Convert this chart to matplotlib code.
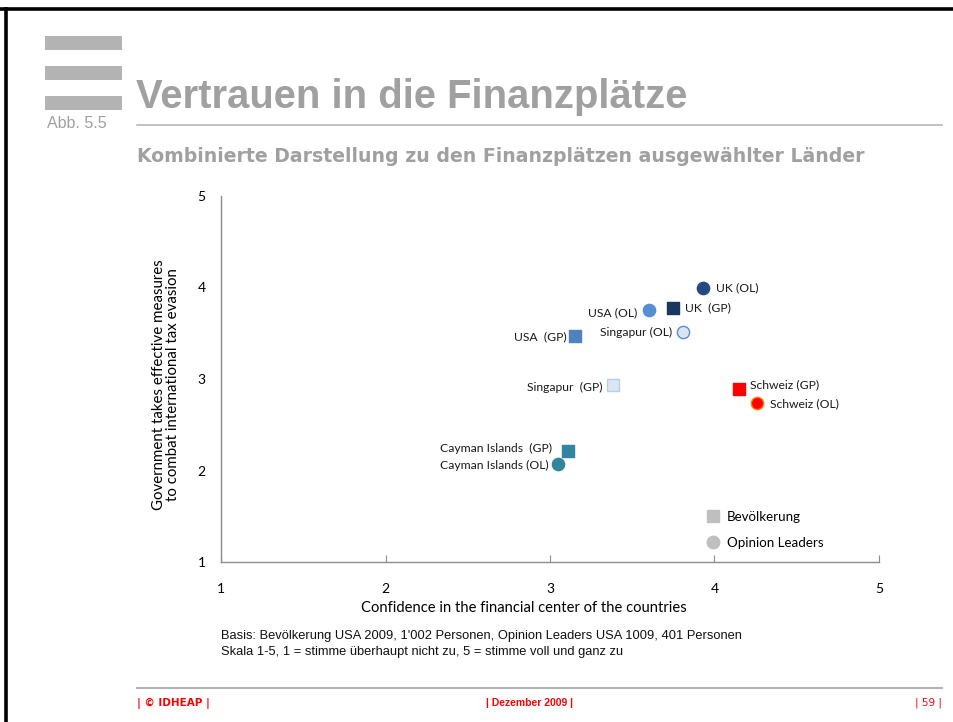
import matplotlib
matplotlib.use("Agg")
import matplotlib.pyplot as plt
from matplotlib.lines import Line2D
from matplotlib.patches import Rectangle

# data
labels = ["UK (OL)", "UK  (GP)", "USA (OL)", "Singapur (OL)", "USA  (GP)",
          "Singapur  (GP)", "Schweiz (GP)", "Schweiz (OL)",
          "Cayman Islands  (GP)", "Cayman Islands (OL)"]
confidence = [3.93, 3.75, 3.60, 3.81, 3.15, 3.38, 4.15, 4.26, 3.11, 3.05]
gov_measures = [4.00, 3.78, 3.75, 3.51, 3.47, 2.93, 2.89, 2.74, 2.21, 2.07]
groups = ["OL", "GP", "OL", "OL", "GP", "GP", "GP", "OL", "GP", "OL"]
face_colors = ["#254a82", "#17375e", "#558ed5", "#dbe5f1", "#4f81bd",
               "#dce6f2", "#ff0000", "#ff0000", "#31859c", "#31859c"]
edge_colors = ["#254a82", "#17375e", "#558ed5", "#558ed5", "#4f81bd",
               "#b9cde5", "#ff0000", "#ff7a00", "#31859c", "#31859c"]
# label offsets in points (dx, dy) and alignment
label_dx = [9.4, 8.6, -8.6, -8.0, -5.8, -7.2, 8.0, 9.4, -11.5, -7.2]
label_dy = [0.0, 0.0, -2.0, 0.0, -0.8, -1.2, 2.9, -0.8, 2.2, -0.8]
ticks = [1, 2, 3, 4, 5]

GRAY_TXT = "#a0a0a0"
RED = "#ff0000"
CHART_FONT = ["Lato", "DejaVu Sans"]
PAGE_FONT = ["Liberation Sans", "DejaVu Sans"]
WIDE_FONT = ["DejaVu Sans"]

fig = plt.figure(figsize=(9.54, 7.22), dpi=100)
W, H = 954, 722


def fx(px):
    return px / W


def fy(py):
    return 1 - py / H


# page frame: top and left black rules
fig.add_artist(Line2D([0, 1], [fy(9), fy(9)], color="black", lw=2.6))
fig.add_artist(Line2D([fx(6), fx(6)], [fy(9), 0], color="black", lw=2.6))

# gray header bars
for top in (36, 66, 96):
    fig.add_artist(Rectangle((fx(45), fy(top + 14)), fx(122) - fx(45), 14 / H,
                             color="#b3b3b3", lw=0))

fig.text(fx(47), fy(123), "Abb. 5.5", fontsize=11.5, color=GRAY_TXT,
         family=PAGE_FONT, va="center")
fig.text(fx(136), fy(97), "Vertrauen in die Finanzplätze", fontsize=28.8,
         fontweight="bold", color=GRAY_TXT, family=PAGE_FONT, va="center")
fig.add_artist(Line2D([fx(137), fx(942)], [fy(125), fy(125)], color="#b0b0b0", lw=1.1))
fig.text(fx(137), fy(157), "Kombinierte Darstellung zu den Finanzplätzen ausgewählter Länder",
         fontsize=13.6, fontweight="bold", color=GRAY_TXT, family=WIDE_FONT, va="center")

# chart
ax = fig.add_axes([fx(221), fy(562), fx(879) - fx(221), (562 - 196) / H])
for c in ("top", "right"):
    ax.spines[c].set_visible(False)
for c in ("left", "bottom"):
    ax.spines[c].set_color("#8c8c8c")
    ax.spines[c].set_linewidth(1.0)
ax.set_xlim(1, 5)
ax.set_ylim(1, 5)
ax.set_xticks(ticks)
ax.set_yticks(ticks)
ax.tick_params(axis="x", direction="in", length=5, color="#8c8c8c", pad=15,
               labelsize=10)
ax.tick_params(axis="y", length=0, pad=11, labelsize=10)
for t in ax.get_xticklabels() + ax.get_yticklabels():
    t.set_family(CHART_FONT)

for i, name in enumerate(labels):
    marker = "s" if groups[i] == "GP" else "o"
    ax.scatter(confidence[i], gov_measures[i], s=78, marker=marker,
               facecolor=face_colors[i], edgecolor=edge_colors[i], linewidth=1.0,
               zorder=3, clip_on=False)
    ax.annotate(name, (confidence[i], gov_measures[i]),
                xytext=(label_dx[i], label_dy[i]), textcoords="offset points",
                ha="left" if label_dx[i] > 0 else "right", va="center",
                fontsize=8.7, family=CHART_FONT, color="#1a1a1a")

ax.set_xlabel("Confidence in the financial center of the countries", fontsize=10.6,
              family=CHART_FONT)
ax.xaxis.set_label_coords((524 - 221) / (879 - 221), -(601 - 562) / (562 - 196))
ax.set_ylabel("Government takes effective measures\nto combat international tax evasion",
              fontsize=10.8, family=CHART_FONT, linespacing=1.0)
ax.yaxis.set_label_coords(-(221 - 180) / (879 - 221), (562 - 385) / (562 - 196))

handles = [
    Line2D([], [], marker="s", ls="none", markersize=9, color="#bfbfbf"),
    Line2D([], [], marker="o", ls="none", markersize=9, color="#bfbfbf"),
]
leg = ax.legend(handles, ["Bevölkerung", "Opinion Leaders"], loc="upper left",
                bbox_to_anchor=(fx(708), fy(511)), bbox_transform=fig.transFigure,
                frameon=False, handlelength=0.7, handletextpad=0.7,
                labelspacing=1.05, borderpad=0, borderaxespad=0,
                prop={"family": CHART_FONT, "size": 9.6})

fig.text(fx(221), fy(636), "Basis: Bevölkerung USA 2009, 1'002 Personen, Opinion Leaders USA 1009, 401 Personen",
         fontsize=9.3, family=PAGE_FONT, va="center", color="#111111")
fig.text(fx(221), fy(652), "Skala 1-5, 1 = stimme überhaupt nicht zu, 5 = stimme voll und ganz zu",
         fontsize=9.3, family=PAGE_FONT, va="center", color="#111111")

# footer
fig.add_artist(Line2D([fx(137), fx(942)], [fy(688), fy(688)], color="#b3b3b3", lw=1.5))
fig.text(fx(137), fy(703), "| © IDHEAP |", fontsize=7.5, fontweight="bold", color=RED,
         family=WIDE_FONT, va="center")
fig.text(fx(530), fy(703), "| Dezember 2009 |", fontsize=7.5, fontweight="bold", color=RED,
         family=PAGE_FONT, va="center", ha="center")
fig.text(fx(942), fy(703), "| 59 |", fontsize=7.5, color=RED,
         family=WIDE_FONT, va="center", ha="right")

fig.savefig("out.png", dpi=100)
